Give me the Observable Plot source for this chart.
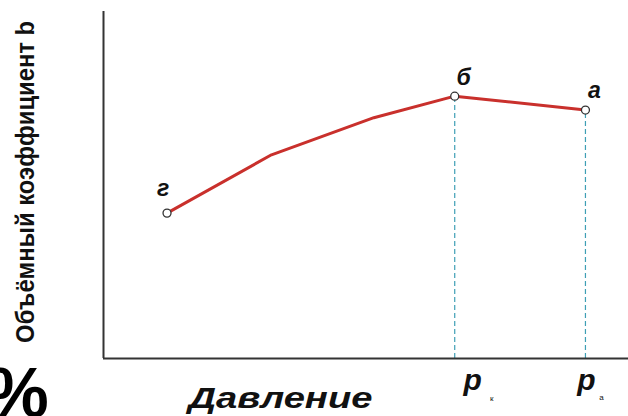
<!DOCTYPE html>
<html><head><meta charset="utf-8">
<script src="https://cdn.jsdelivr.net/npm/d3@7"></script>
<script src="https://cdn.jsdelivr.net/npm/@observablehq/plot@0.6"></script>
<style>body{margin:0;background:#fff;overflow:hidden}</style>
</head><body><div id="chart"></div>
<script>
// curve points (pressure, volume factor b)
const pressure = [12.1, 32, 51.5, 66.9, 91.8];
const bCoef = [41.9, 58.7, 69.4, 75.6, 71.6];
// marked points
const markNames = ["г", "б", "а"];
const markIdx = [0, 3, 4];
// pressure ticks
const tickNames = ["p", "p"];
const tickSubs = ["к", "а"];
const tickIdx = [3, 4];
const yTitle = "Объёмный коэффициент b";
const xTitle = "Давление";

const curve = pressure.map((p, i) => ({p, b: bCoef[i]}));
const marked = markIdx.map((i, k) => ({p: pressure[i], b: bCoef[i], name: markNames[k]}));
const ticks = tickIdx.map((i, k) => ({p: pressure[i], b: bCoef[i], name: tickNames[k], sub: tickSubs[k]}));

const font = "Liberation Sans, Arial, sans-serif";
const chart = Plot.plot({
  width: 628, height: 416,
  marginLeft: 103, marginRight: 0, marginTop: 11, marginBottom: 58,
  x: {domain: [0, 100], axis: null},
  y: {domain: [0, 100], axis: null},
  style: {fontFamily: font, background: "#fff", overflow: "visible"},
  marks: [
    Plot.ruleX(ticks, {x: "p", y1: 0, y2: "b", stroke: "#3f9fb5", strokeWidth: 1.2, strokeDasharray: "5,3"}),
    Plot.ruleX([0], {stroke: "#333", strokeWidth: 2}),
    Plot.ruleY([0], {x1: 0, x2: 100, stroke: "#333", strokeWidth: 2}),
    Plot.line(curve, {x: "p", y: "b", stroke: "#c9302c", strokeWidth: 3}),
    Plot.dot(marked, {x: "p", y: "b", r: 4, fill: "#fff", stroke: "#333", strokeWidth: 1.3}),
    Plot.text(marked.slice(0, 1), {x: "p", y: "b", text: "name", dx: -4, dy: -24, fontSize: 23, fontWeight: "bold", fontStyle: "italic", fill: "#111"}),
    Plot.text(marked.slice(1), {x: "p", y: "b", text: "name", dx: 9, dy: -19, fontSize: 23, fontWeight: "bold", fontStyle: "italic", fill: "#111"}),
    Plot.text(ticks.slice(0, 1), {x: "p", y: 0, text: "name", dx: 18, dy: 22, fontSize: 30, fontWeight: "bold", fontStyle: "italic", fill: "#111"}),
    Plot.text(ticks.slice(1), {x: "p", y: 0, text: "name", dx: 1, dy: 22, fontSize: 30, fontWeight: "bold", fontStyle: "italic", fill: "#111"}),
    Plot.text(ticks.slice(0, 1), {x: "p", y: 0, text: "sub", dx: 37, dy: 40, fontSize: 8, fill: "#111"}),
    Plot.text(ticks.slice(1), {x: "p", y: 0, text: "sub", dx: 16, dy: 39, fontSize: 8, fill: "#111"}),
    Plot.text([xTitle], {frameAnchor: "bottom-left", textAnchor: "middle", dx: 177, dy: 49, fontSize: 29, fontWeight: "bold", fontStyle: "italic", fill: "#111"}),
    Plot.text([yTitle], {x: -14.9, y: 50.9, rotate: -90, fontSize: 26, fontWeight: "bold", fill: "#111"}),
    Plot.text(["%"], {frameAnchor: "bottom-left", textAnchor: "middle", dx: -86, dy: 58, fontSize: 70, fontWeight: "bold", fill: "#000"})
  ]
});
d3.select(chart).selectAll("text").filter(function() { return this.textContent === xTitle; })
  .attr("textLength", 184).attr("lengthAdjust", "spacingAndGlyphs");
d3.select(chart).selectAll("text").filter(function() { return this.textContent === yTitle; })
  .attr("textLength", 322).attr("lengthAdjust", "spacingAndGlyphs");
document.getElementById("chart").appendChild(chart);
</script></body></html>
